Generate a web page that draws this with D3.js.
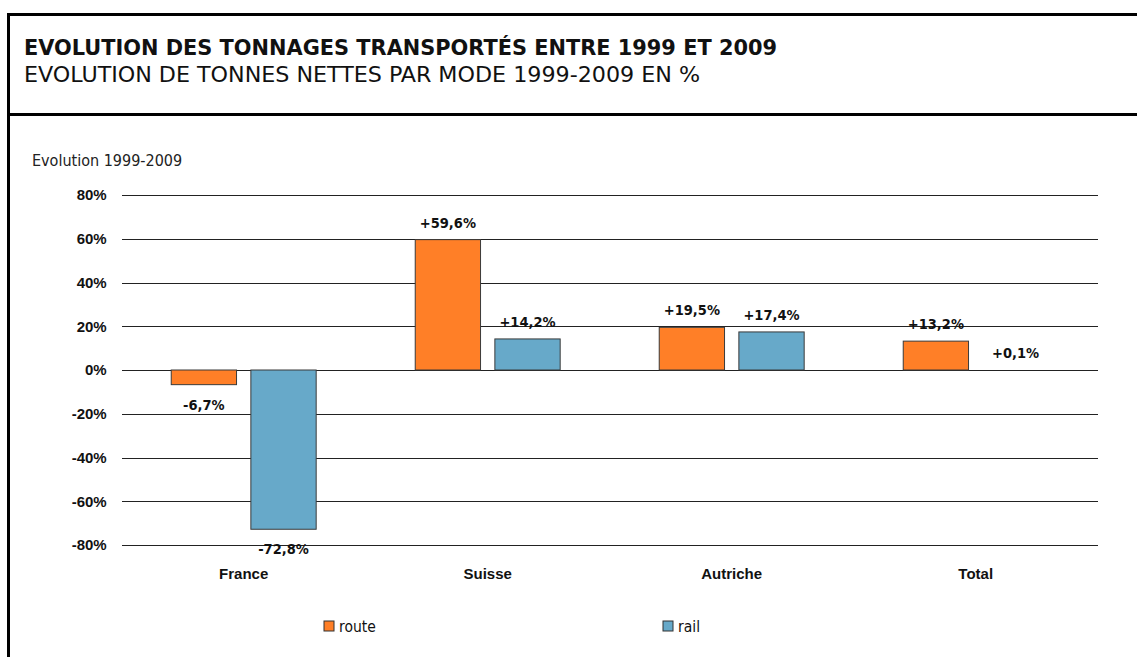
<!DOCTYPE html>
<html><head><meta charset="utf-8">
<script src="https://cdn.jsdelivr.net/npm/d3@7"></script>
<style>
html,body{margin:0;padding:0;background:#fff;}
svg{display:block;font-family:"DejaVu Sans Condensed","DejaVu Sans",sans-serif;font-stretch:condensed;}
</style></head>
<body><svg id="c" width="1137" height="657"></svg>
<script>
const title = "EVOLUTION DES TONNAGES TRANSPORTÉS ENTRE 1999 ET 2009";
const subtitle = "EVOLUTION DE TONNES NETTES PAR MODE 1999-2009 EN %";
const axisTitle = "Evolution 1999-2009";
const categories = ["France", "Suisse", "Autriche", "Total"];
const seriesNames = ["route", "rail"];
const route = [-6.7, 59.6, 19.5, 13.2];
const rail = [-72.8, 14.2, 17.4, 0.1];
const yTicks = [-80, -60, -40, -20, 0, 20, 40, 60, 80];
const colors = {route: "#FF7F27", rail: "#67A9C9"};

const svg = d3.select("#c");
// frame
svg.append("rect").attr("x",7).attr("y",13).attr("width",1130).attr("height",3).attr("fill","#000");
svg.append("rect").attr("x",7).attr("y",113).attr("width",1130).attr("height",3).attr("fill","#000");
svg.append("rect").attr("x",7).attr("y",13).attr("width",3).attr("height",644).attr("fill","#000");

const fitW = (sel, w) => { const l = sel.node().getComputedTextLength(); if (l > 0) sel.attr("textLength", w).attr("lengthAdjust","spacingAndGlyphs"); };

svg.append("text").attr("x",24).attr("y",55).attr("font-size",22).attr("font-weight","bold").attr("fill","#111").text(title).call(fitW, 753);
svg.append("text").attr("x",24).attr("y",82).attr("font-size",22).attr("fill","#111").text(subtitle).call(fitW, 676);
svg.append("text").attr("x",32).attr("y",166).attr("font-size",16).attr("fill","#222").text(axisTitle);

const y = d3.scaleLinear().domain([-80,80]).range([545,195]);
const x0 = d3.scaleBand().domain(categories).range([121.7,1097.7]).paddingInner(0.406).paddingOuter(0.203);
const x1 = d3.scaleBand().domain(seriesNames).range([0,x0.bandwidth()]).paddingInner(0.18).paddingOuter(0);

const yAxis = d3.axisLeft(y).tickValues(yTicks).tickSize(-(1097.7-121.7)).tickFormat(d => d + "%");
const gA = svg.append("g").attr("transform","translate(121.7,0)").call(yAxis);
gA.select(".domain").remove();
gA.selectAll(".tick line").attr("stroke","#222").attr("stroke-width",1).attr("shape-rendering","crispEdges");
gA.selectAll(".tick text").attr("x",-15).attr("font-size",15).attr("font-weight","bold").attr("fill","#111").attr("font-family","inherit");

const data = categories.map((c,i) => ({cat:c, route:route[i], rail:rail[i]}));
const g = svg.append("g");
data.forEach(d => {
  seriesNames.forEach(s => {
    const v = d[s];
    const bx = x0(d.cat) + x1(s);
    const h = Math.abs(y(v) - y(0));
    if (h >= 1) {
      g.append("rect").attr("x", bx).attr("y", Math.min(y(v), y(0))).attr("width", x1.bandwidth()).attr("height", h)
        .attr("fill", colors[s]).attr("stroke","#3a3a3a").attr("stroke-width",1);
    }
    const lbl = (v > 0 ? "+" : "") + d3.format(".1f")(v).replace(".", ",").replace("\u2212", "-") + "%";
    g.append("text").attr("x", bx + x1.bandwidth()/2).attr("y", v >= 0 ? y(v) - 12 : y(v) + 25)
      .attr("text-anchor","middle").attr("font-size",14.5).attr("font-weight","bold").attr("fill","#111").text(lbl);
  });
});

const xAxis = d3.axisBottom(x0).tickSize(0).tickPadding(0);
const gX = svg.append("g").attr("transform","translate(0,565)").call(xAxis);
gX.select(".domain").remove();
gX.selectAll(".tick text").attr("font-size",15).attr("font-weight","bold").attr("fill","#111").attr("font-family","inherit").attr("dy","0.9em");

const legendX = {route: 324, rail: 663};
seriesNames.forEach(s => {
  svg.append("rect").attr("x", legendX[s]).attr("y", 621).attr("width", 10).attr("height", 10).attr("fill", colors[s]).attr("stroke","#333").attr("stroke-width",1);
  svg.append("text").attr("x", legendX[s] + 15).attr("y", 631.5).attr("font-size", 15.5).attr("fill","#111").text(s);
});
</script></body></html>
